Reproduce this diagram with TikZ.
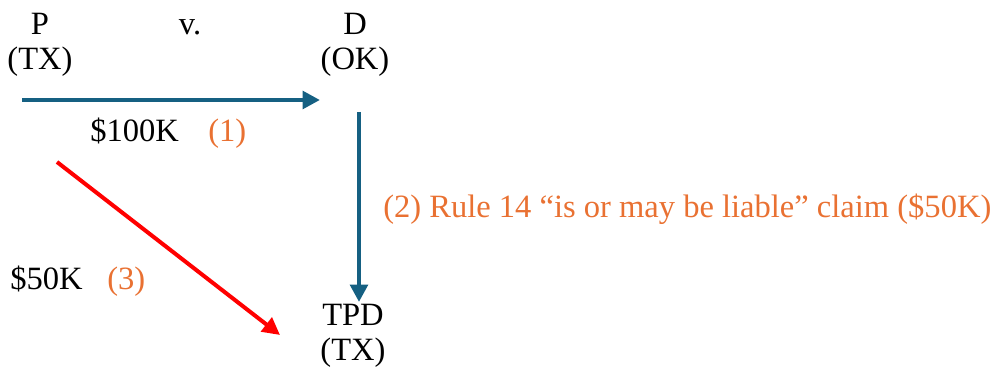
\documentclass[tikz,border=0pt]{standalone}
\usepackage{fontspec}
\setmainfont{Liberation Serif}
\usetikzlibrary{arrows.meta, positioning}
\definecolor{claimblue}{RGB}{21,96,130}
\definecolor{claimorange}{RGB}{233,113,50}

\begin{document}
\begin{tikzpicture}[x=0.75pt, y=-0.75pt,
    party/.style={align=center, inner sep=0pt, font=\fontsize{24.4}{26}\selectfont},
    amount/.style={inner sep=0pt, anchor=base west, font=\fontsize{24.4}{26}\selectfont},
    tag/.style={amount, text=claimorange},
    bluearrow/.style={-{Triangle[length=13pt, width=13pt]}, line width=3.4pt, draw=claimblue},
    redarrow/.style={-{Triangle[length=13pt, width=13pt]}, line width=3pt, draw=red}
]

% Page frame
\useasboundingbox (0,0) rectangle (997,370);

% Parties
\node[party] (p) at (40,45) {P\\(TX)};
\node[party, anchor=base] (vs) at (190,35) {v.};
\node[party] (d) at (355,45) {D\\(OK)};
\node[party] (tpd) at (353,336) {TPD\\(TX)};

% Arrow ends
\coordinate (suit start) at (22,100);
\coordinate (suit end) at (320,100);
\coordinate (impl start) at (359,112);
\coordinate (impl end) at (359,302);
\coordinate (claim start) at (57,162);
\coordinate (claim end) at (280,335);

% Claims
\draw[bluearrow] (suit start) -- (suit end);
\draw[bluearrow] (impl start) -- (impl end);
\draw[redarrow] (claim start) -- (claim end);

% Labels
\node[amount] (suit amt) at (90,142) {\$100K};
\node[tag] (suit tag) at (208,142) {(1)};
\node[tag] (impl tag) at (383,218) {(2) Rule 14 “is or may be liable” claim (\$50K)};
\node[amount] (claim amt) at (10,290) {\$50K};
\node[tag] (claim tag) at (107,290) {(3)};

\end{tikzpicture}
\end{document}
